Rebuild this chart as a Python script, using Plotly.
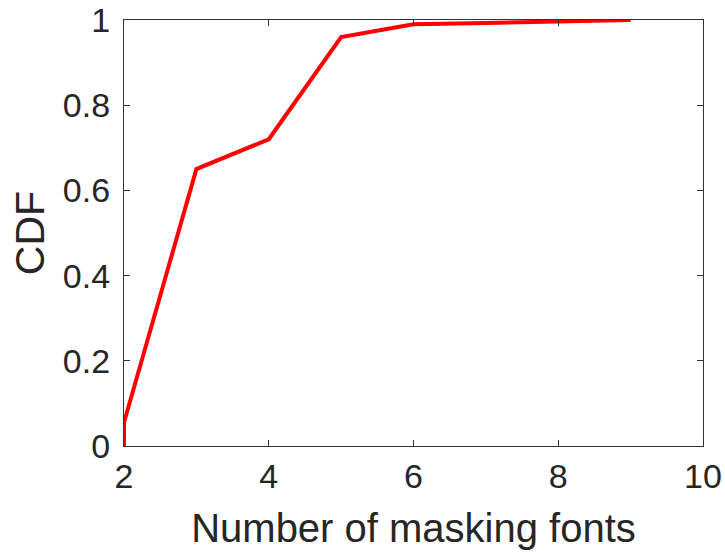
import plotly.graph_objects as go

num_fonts = [2, 2, 3, 4, 5, 6, 7, 8, 9]
cdf_values = [0.0, 0.055, 0.65, 0.72, 0.96, 0.99, 0.993, 0.996, 1.0]
x_ticks = [2, 4, 6, 8, 10]
y_ticks = [0, 0.2, 0.4, 0.6, 0.8, 1]
y_tick_labels = ["0", "0.2", "0.4", "0.6", "0.8", "1"]

fig = go.Figure()
fig.add_trace(go.Scatter(
    x=num_fonts, y=cdf_values, mode="lines",
    line=dict(color="#ff0000", width=4),
    showlegend=False, cliponaxis=False,
))

axis_color = "#333333"
font_family = "Liberation Sans, Arial, sans-serif"

fig.update_layout(
    width=725, height=552,
    margin=dict(l=124, r=22, t=20, b=106),
    paper_bgcolor="white", plot_bgcolor="white",
    font=dict(family=font_family, color="#262626", size=34),
    xaxis=dict(
        range=[2, 10], tickvals=x_ticks, ticktext=[str(v) for v in x_ticks],
        showgrid=False, zeroline=False, showline=True, linecolor=axis_color, linewidth=1.3,
        mirror="ticks", ticks="inside", ticklen=6, tickcolor=axis_color, tickwidth=1,
        tickfont=dict(size=34), automargin=False, ticklabeloverflow="allow",
        title=dict(text="Number of masking fonts", font=dict(size=40), standoff=20),
    ),
    yaxis=dict(
        range=[0, 1], tickvals=y_ticks, ticktext=y_tick_labels,
        showgrid=False, zeroline=False, showline=True, linecolor=axis_color, linewidth=1.3,
        mirror="ticks", ticks="inside", ticklen=6, tickcolor=axis_color, tickwidth=1,
        tickfont=dict(size=34), automargin=False, ticklabelstandoff=6,
        ticklabeloverflow="allow",
        title=dict(text="CDF", font=dict(size=41), standoff=5),
    ),
)

fig.write_html(
    "out.html",
    config={"displayModeBar": False},
    post_script="document.body.style.margin='0px';",
)
